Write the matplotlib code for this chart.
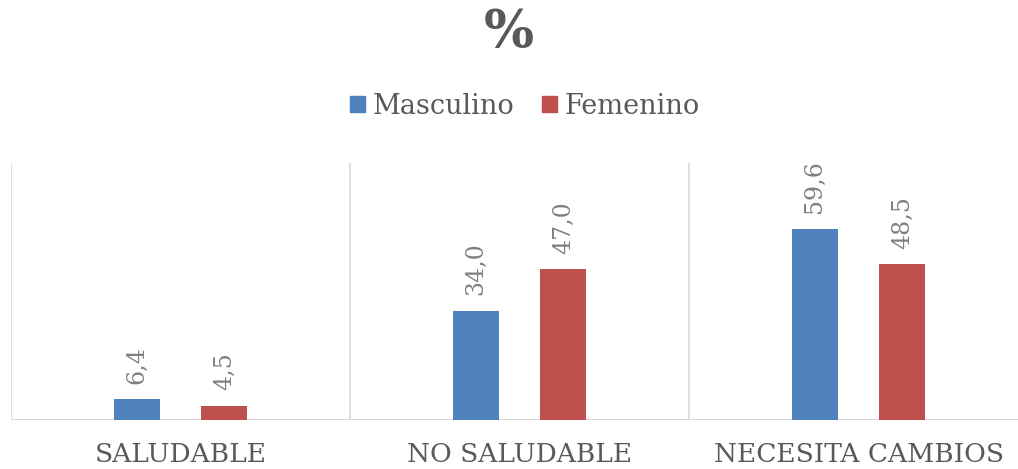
import matplotlib
matplotlib.use("Agg")
import matplotlib.pyplot as plt
import numpy as np
from matplotlib.patches import Patch

# datos
categorias = ["SALUDABLE", "NO SALUDABLE", "NECESITA CAMBIOS"]
masculino = [6.4, 34.0, 59.6]
femenino = [4.5, 47.0, 48.5]
series = ["Masculino", "Femenino"]

azul = "#4F81BD"
rojo = "#C0504D"
gris = "#595959"

plt.rcParams['font.family'] = ['DejaVu Serif']

fig = plt.figure(figsize=(10.18, 4.69), dpi=100)
W, H = 1018, 469
ax = fig.add_axes([11 / W, 1 - 420 / H, (1028 - 11) / W, (420 - 163) / H])

x = np.arange(len(categorias))
ancho = 0.136
off = 0.129
b1 = ax.bar(x - off, masculino, ancho, color=azul, zorder=3)
b2 = ax.bar(x + off, femenino, ancho, color=rojo, zorder=3)

for barras in (b1, b2):
    for r in barras:
        v = r.get_height()
        ax.annotate(f"{v:.1f}".replace(".", ","),
                    (r.get_x() + r.get_width() / 2, v),
                    xytext=(0, 11), textcoords="offset points",
                    rotation=90, ha="center", va="bottom",
                    fontsize=17, color="#7f7f7f")

ax.set_xlim(-0.5, 2.5)
ax.set_ylim(0, 80)
for xv in [-0.5, 0.5, 1.5]:
    ax.axvline(xv, color="#D9D9D9", lw=1.2, zorder=1)
for s in ax.spines.values():
    s.set_visible(False)
ax.axhline(0, color="#D9D9D9", lw=1.5, zorder=2)
ax.set_yticks([])
ax.set_xticks(x)
ax.set_xticklabels(categorias, fontsize=19, color=gris)
ax.tick_params(axis="x", length=0, pad=16)

fig.text(0.5, 1 - 33 / H, "%", ha="center", va="center",
         fontsize=38, fontweight="bold", color=gris)

handles = [Patch(color=azul), Patch(color=rojo)]
fig.legend(handles, series, loc="center", bbox_to_anchor=(525 / W, 1 - 106 / H),
           ncol=2, frameon=False, fontsize=19.5, labelcolor=gris,
           handlelength=0.55, handleheight=0.55, handletextpad=0.3, columnspacing=1.0)

fig.savefig("out.png", dpi=100)
